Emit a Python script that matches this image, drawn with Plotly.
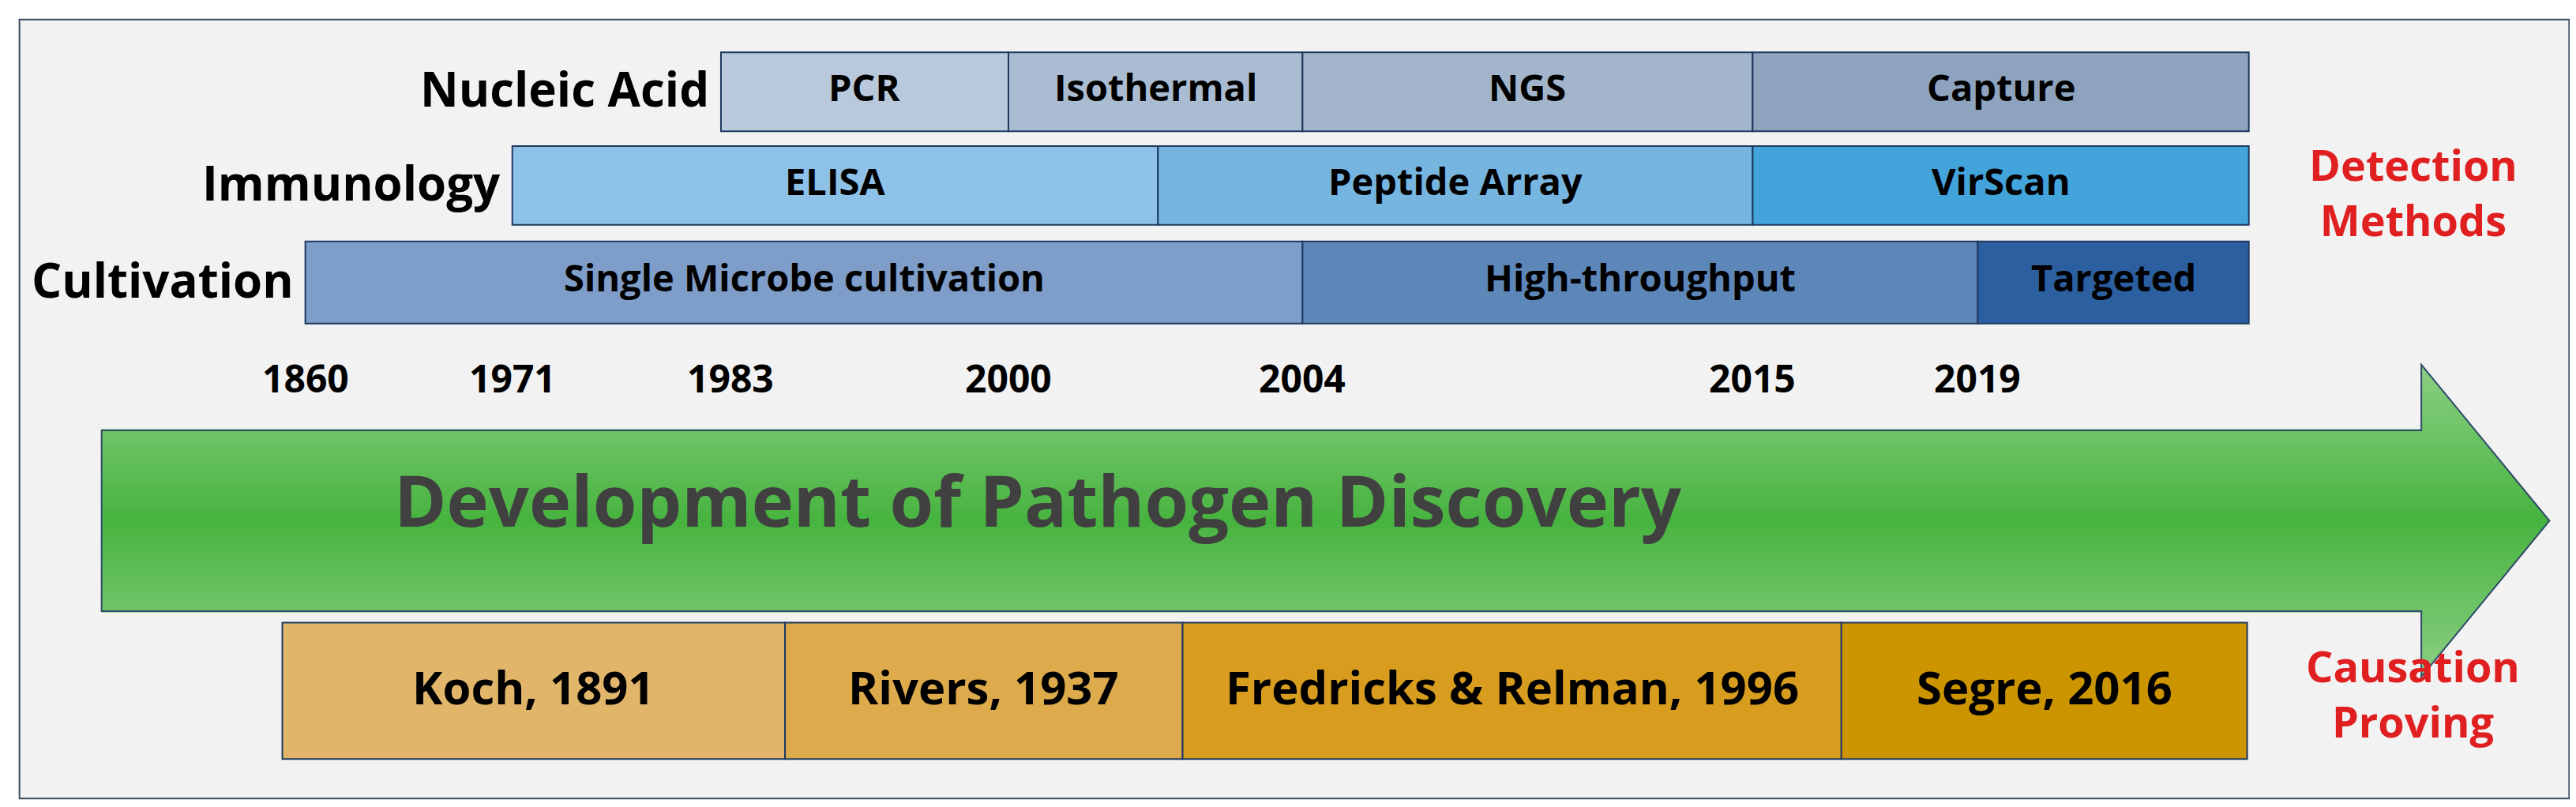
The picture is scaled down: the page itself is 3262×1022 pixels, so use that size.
import plotly.graph_objects as go

W, H = 1568, 491  # design units (scaled to 3262x1022)
FONT = "Open Sans"

# ---- data ----
row_names = ["Nucleic Acid", "Immunology", "Cultivation"]
nucleic_labels = ["PCR", "Isothermal", "NGS", "Capture"]
nucleic_edges = [435, 610, 789, 1063, 1365]
nucleic_colors = ["#b9c8da", "#aabcd1", "#a3b5cb", "#8da3be"]
immuno_labels = ["ELISA", "Peptide Array", "VirScan"]
immuno_edges = [308, 701, 1063, 1365]
immuno_colors = ["#8dc1e7", "#77b5e1", "#43a4dc"]
cult_labels = ["Single Microbe cultivation", "High-throughput", "Targeted"]
cult_edges = [182, 789, 1200, 1365]
cult_colors = ["#7f9dc9", "#5d86b9", "#2b5fa0"]
years = ["1860", "1971", "1983", "2000", "2004", "2015", "2019"]
year_pos = [182, 308, 441, 610, 789, 1063, 1200]
cause_labels = ["Koch, 1891", "Rivers, 1937", "Fredricks & Relman, 1996", "Segre, 2016"]
cause_edges = [168, 474, 716, 1117, 1364]
cause_colors = ["#e1b66b", "#ddab4c", "#d89d1f", "#cc9500"]

shapes, ann = [], []
def txt(x, y, t, size, color="#000", xanchor="center"):
    ann.append(dict(x=x, y=y, text=t, showarrow=False, xanchor=xanchor, yanchor="middle",
                    font=dict(family=FONT, size=size, color=color)))

shapes.append(dict(type="rect", x0=8, x1=1560, y0=8, y1=482, fillcolor="#f2f2f2",
                   line=dict(color="#3b4a5e", width=2), layer="below"))

rows = [(nucleic_labels, nucleic_edges, nucleic_colors, 28, 76),
        (immuno_labels, immuno_edges, immuno_colors, 85, 133),
        (cult_labels, cult_edges, cult_colors, 143, 193)]
for ri, (labs, edges, cols, y0, y1) in enumerate(rows):
    for i, l in enumerate(labs):
        shapes.append(dict(type="rect", x0=edges[i], x1=edges[i+1], y0=y0, y1=y1,
                           fillcolor=cols[i], line=dict(color="#1f3a5f", width=2)))
        txt((edges[i]+edges[i+1])/2, (y0+y1)/2 - 3, "<b>%s</b>" % l, 47)
    txt(edges[0]-6, (y0+y1)/2 - 2, "<b>%s</b>" % row_names[ri], 60, xanchor="right")

for yv, xp in zip(years, year_pos):
    txt(xp, 226, "<b>%s</b>" % yv, 48)

bx0, bx1, by0, by1 = 58, 1470, 258, 368
hy0, hy1, tipx, tipy = 218, 408, 1548, 313
def xr(y):
    return bx1 + (tipx - bx1) * (1 - abs(y - tipy) / (tipy - hy0))
def xl(y):
    return bx0 if by0 <= y <= by1 else bx1
def col(y):
    t = abs(y - tipy) / (tipy - hy0)
    c0, c1 = (72, 180, 64), (140, 208, 132)
    return "rgb(%d,%d,%d)" % tuple(int(a + (b - a) * t) for a, b in zip(c0, c1))
N = 120
for k in range(N):
    ya = hy0 + (hy1 - hy0) * k / N
    yb = hy0 + (hy1 - hy0) * (k + 1) / N
    ym = (ya + yb) / 2
    xa = xl(ym)
    shapes.append(dict(type="path", path="M %f %f L %f %f L %f %f L %f %f Z" % (
        xa, ya - 0.3, xr(ya), ya - 0.3, xr(yb), yb + 0.3, xa, yb + 0.3),
        fillcolor=col(ym), line=dict(width=0)))
shapes.append(dict(type="path",
    path="M %d %d L %d %d L %d %d L %d %d L %d %d L %d %d L %d %d Z" % (
        bx0, by0, bx1, by0, bx1, hy0, tipx, tipy, bx1, hy1, bx1, by1, bx0, by1),
    line=dict(color="#2f4a6a", width=2)))
txt(628, 300, "<b>Development of Pathogen Discovery</b>", 90, color="#404040")

for i, l in enumerate(cause_labels):
    shapes.append(dict(type="rect", x0=cause_edges[i], x1=cause_edges[i+1], y0=375, y1=458,
                       fillcolor=cause_colors[i], line=dict(color="#1f3a5f", width=2)))
    txt((cause_edges[i]+cause_edges[i+1])/2, 414, "<b>%s</b>" % l, 58)

txt(1465, 113, "<b>Detection<br>Methods</b>", 54, color="#e02020")
txt(1465, 418, "<b>Causation<br>Proving</b>", 54, color="#e02020")

fig = go.Figure()
fig.update_layout(width=3262, height=1022, margin=dict(l=0, r=0, t=0, b=0),
                  paper_bgcolor="white", plot_bgcolor="white", shapes=shapes, annotations=ann,
                  xaxis=dict(range=[0, W], visible=False, fixedrange=True),
                  yaxis=dict(range=[H, 0], visible=False, fixedrange=True),
                  showlegend=False)
fig.write_html("out.html")
